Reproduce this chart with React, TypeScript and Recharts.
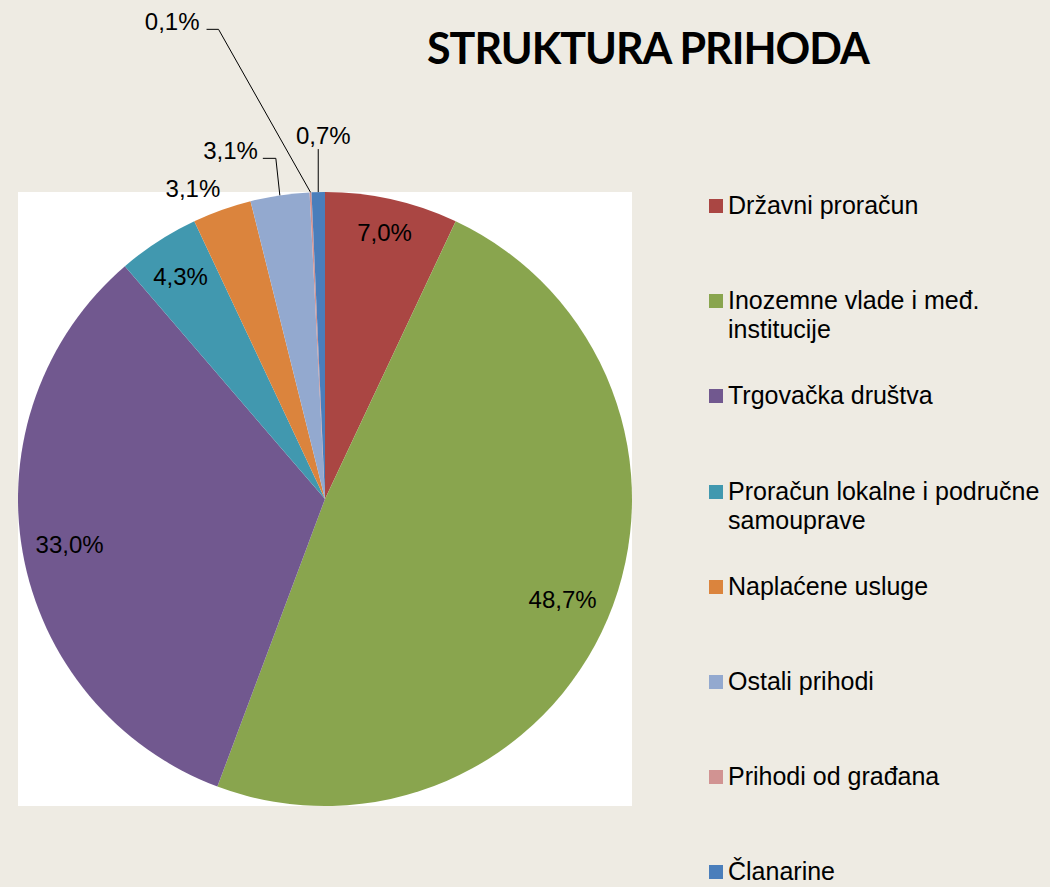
import React from 'react';
import { PieChart, Pie, Cell, Legend } from 'recharts';

const categories = [
    'Državni proračun',
    'Inozemne vlade i međ. institucije',
    'Trgovačka društva',
    'Proračun lokalne i područne samouprave',
    'Naplaćene usluge',
    'Ostali prihodi',
    'Prihodi od građana',
    'Članarine',
];
const shares = [7.0, 48.7, 33.0, 4.3, 3.1, 3.1, 0.1, 0.7];
const colors = ['#AA4643', '#89A54E', '#71588F', '#4198AF', '#DB843D', '#93A9CF', '#D19392', '#4A7EBB'];

const data = categories.map((name, i) => ({ name, value: shares[i] }));

const FONT = '"Liberation Sans", Arial, sans-serif';
const RAD = Math.PI / 180;

// where each label goes: inside at a radius factor, or outside with offsets from the slice edge
const labelLayout: Record<number, any> = {
    0: { r: 0.89 },
    1: { r: 0.84 },
    2: { r: 0.845 },
    3: { r: 0.865 },
    4: { dx: -29, dy: -21, anchor: 'middle' },
    5: { dx: -22, dy: -45, anchor: 'end', line: [[-4, -37], [-17, -37]] },
    6: { dx: -111, dy: -171, anchor: 'end', line: [[-92, -163], [-104, -163]] },
    7: { dx: 5, dy: -57, anchor: 'middle', line: [[0, -43]] },
};

const fmt = (v: number) => v.toFixed(1).replace('.', ',') + '%';

const renderLabel = (props: any) => {
    const { cx, cy, midAngle, outerRadius, index, value } = props;
    const cfg = labelLayout[index] || { r: 0.86 };
    const cos = Math.cos(-midAngle * RAD);
    const sin = Math.sin(-midAngle * RAD);
    if (cfg.r) {
        const x = cx + outerRadius * cfg.r * cos;
        const y = cy + outerRadius * cfg.r * sin;
        return (
            <text x={x} y={y} fill="#000" fontSize={24} fontFamily={FONT}
                textAnchor="middle" dominantBaseline="central">
                {fmt(value)}
            </text>
        );
    }
    const ex = cx + outerRadius * cos;
    const ey = cy + outerRadius * sin;
    const pts = cfg.line
        ? [[ex, ey], ...cfg.line.map((p: number[]) => [ex + p[0], ey + p[1]])]
        : null;
    return (
        <g>
            {pts && (
                <polyline points={pts.map((p: number[]) => p.join(',')).join(' ')}
                    fill="none" stroke="#000" strokeWidth={1} />
            )}
            <text x={ex + cfg.dx} y={ey + cfg.dy} fill="#000" fontSize={24} fontFamily={FONT}
                textAnchor={cfg.anchor} dominantBaseline="central">
                {fmt(value)}
            </text>
        </g>
    );
};

const renderLegend = (props: any) => {
    const { payload } = props;
    return (
        <div style={{ position: 'relative', width: 341, height: 690 }}>
            {(payload || []).map((entry: any, i: number) => {
                const idx = categories.indexOf(entry.value);
                return (
                    <div key={`lg-${i}`} style={{
                        position: 'absolute', left: 0, top: idx * 95.2,
                        display: 'flex', alignItems: 'flex-start',
                    }}>
                        <span style={{
                            width: 14, height: 14, background: colors[idx],
                            marginTop: 8, marginRight: 5, flex: 'none',
                        }} />
                        <span style={{
                            width: 322, fontSize: 25, lineHeight: '29px',
                            fontFamily: FONT, color: '#000',
                        }}>
                            {entry.value}
                        </span>
                    </div>
                );
            })}
        </div>
    );
};

export default function App() {
    return (
        <div style={{
            position: 'absolute', left: 0, top: 0, width: 1050, height: 887,
            background: '#EEEBE3', overflow: 'hidden',
        }}>
            <div style={{ position: 'absolute', left: 18, top: 192, width: 614, height: 614, background: '#fff' }} />
            <div style={{
                position: 'absolute', left: 400, top: 20, width: 496, textAlign: 'center',
                fontFamily: 'Lato, "Open Sans", sans-serif', fontWeight: 700, fontSize: 43,
                letterSpacing: -1, lineHeight: '56px', color: '#000',
            }}>
                STRUKTURA PRIHODA
            </div>
            <div style={{ position: 'absolute', left: 0, top: 0 }}>
                <PieChart width={1050} height={887} margin={{ top: 0, right: 0, bottom: 0, left: 0 }}>
                    <Pie
                        data={data}
                        dataKey="value"
                        nameKey="name"
                        cx={325}
                        cy={499}
                        outerRadius={307}
                        startAngle={90}
                        endAngle={-270}
                        stroke="none"
                        label={renderLabel}
                        labelLine={false}
                        isAnimationActive={false}
                    >
                        {data.map((d, i) => (
                            <Cell key={`cell-${i}`} fill={colors[i]} />
                        ))}
                    </Pie>
                    <Legend
                        layout="vertical"
                        verticalAlign="top"
                        align="right"
                        content={renderLegend}
                        wrapperStyle={{ left: 709, top: 191, width: 341 }}
                    />
                </PieChart>
            </div>
        </div>
    );
}
